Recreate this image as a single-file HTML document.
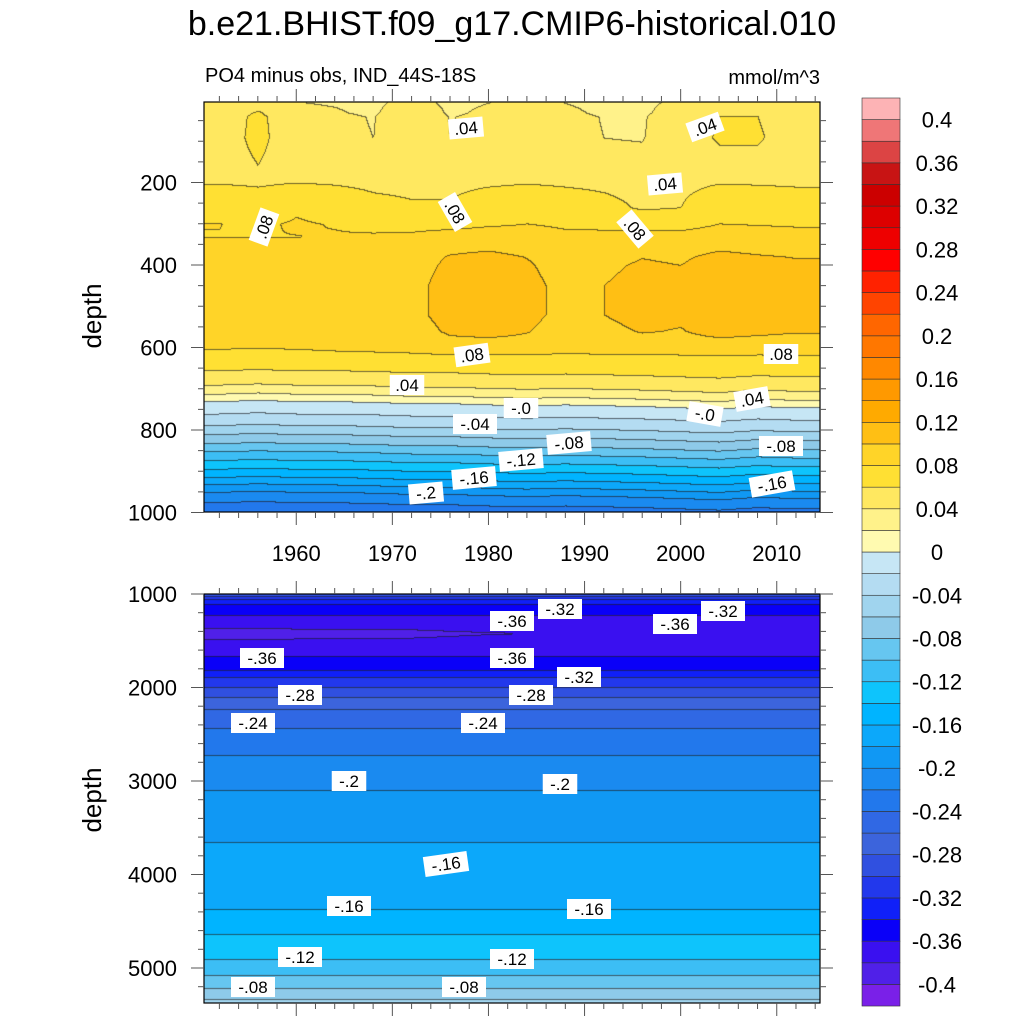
<!DOCTYPE html>
<html><head><meta charset="utf-8"><style>
html,body{margin:0;padding:0;background:#fff;}
#wrap{position:relative;width:1024px;height:1024px;overflow:hidden;font-family:"Liberation Sans",sans-serif;}
canvas{position:absolute;}
svg{position:absolute;left:0;top:0;}
</style></head><body>
<div id="wrap">
<canvas id="cTop" width="616" height="410" style="left:204px;top:102px"></canvas>
<canvas id="cBot" width="616" height="409" style="left:204px;top:594px"></canvas>
<svg id="ov" width="1024" height="1024">
<text x="512" y="35" font-size="34" text-anchor="middle">b.e21.BHIST.f09_g17.CMIP6-historical.010</text>
<text x="205" y="82" font-size="20">PO4 minus obs, IND_44S-18S</text>
<text x="820" y="84" font-size="20" text-anchor="end">mmol/m^3</text>
<text transform="translate(101,316) rotate(-90)" font-size="26" text-anchor="middle">depth</text>
<text transform="translate(101,800) rotate(-90)" font-size="26" text-anchor="middle">depth</text>
<g id="gAxes"></g>
<g id="gLabels"></g>
<g id="gCbar"></g>
</svg>
</div>
<script>
// ---- data ----
const years = [1952,1956,1960,1964,1968,1972,1976,1980,1984,1988,1992,1996,2000,2004,2008,2012];
const surfAnom  = [0.0,0.014,-0.003,-0.006,-0.011,0.009,-0.011,-0.004,0.002,-0.004,-0.011,-0.012,0.005,0.01,0.01,0.005];
const transAnom = [0.005,0.0,0.008,0.003,-0.005,-0.008,-0.008,0.0,0.005,0.0,-0.005,-0.012,-0.01,0.005,0.003,0.0];
const coreAnom  = [-0.008,-0.008,-0.008,-0.005,-0.003,0.0,0.012,0.015,0.01,0.0,0.005,0.01,0.008,0.015,0.012,0.01];
const lowerShift = [0,-3,0,0,2,5,5,8,10,8,10,12,15,18,12,15];
const topDepths = [5,40,150,200,250,300,350,400,450,520,570,600,630,655,690,712,730,760,788,810,832,852,873,894,914,932,950,975,1000];
const topValues = [0.042,0.05,0.052,0.058,0.068,0.078,0.086,0.092,0.095,0.095,0.09,0.083,0.075,0.06,0.04,0.02,0.0,-0.02,-0.04,-0.06,-0.08,-0.1,-0.12,-0.14,-0.16,-0.18,-0.2,-0.22,-0.235];
const botDepths = [1000,1032,1064,1118,1257,1417,1620,1791,1866,1973,2080,2187,2369,2636,2989,3439,4305,4561,4861,5043,5182,5289,5375];
const botValues = [-0.275,-0.305,-0.325,-0.345,-0.365,-0.378,-0.365,-0.345,-0.325,-0.305,-0.285,-0.265,-0.245,-0.225,-0.205,-0.185,-0.165,-0.145,-0.125,-0.105,-0.085,-0.065,-0.055];
const botAnom = [-0.012,-0.012,-0.01,-0.01,-0.01,-0.008,-0.005,-0.003,-0.002,0,0,0,0,0,0,0];
const cbarLevels = [-0.4,-0.36,-0.32,-0.28,-0.24,-0.2,-0.16,-0.12,-0.08,-0.04,0,0.04,0.08,0.12,0.16,0.2,0.24,0.28,0.32,0.36,0.4];
const cbarLabels = ["-0.4","-0.36","-0.32","-0.28","-0.24","-0.2","-0.16","-0.12","-0.08","-0.04","0","0.04","0.08","0.12","0.16","0.2","0.24","0.28","0.32","0.36","0.4"];
const xTickYears = [1960,1970,1980,1990,2000,2010];
const topYTicks = [200,400,600,800,1000];
const botYTicks = [1000,2000,3000,4000,5000];
// colors low -> high (42 bins)
const colors = ["#7a20e8","#5020e8","#3a10f0","#0a00f8","#1020f8","#2238ec","#3050e0","#3c64dc","#3068e4","#2278ec","#1a8af0","#1098f4","#0ca8fa","#00b4ff","#0ec4fc","#3cbef5","#66c6f0","#8ecae9","#a0d4ee","#b4dcf2","#c6e6f5",
"#fffab0","#fff28a","#ffe860","#ffe033","#ffd428","#ffbf14","#ffaa00","#ff9900","#ff8800","#ff7700","#ff6600","#ff4400","#ff2200","#ff0000","#ee0000","#dd0000","#cc0000","#c81414","#dc4444","#ef7677","#fdb3b5"];
// contour labels [text, x, y, rotation]
const clabTop = [[".04",466,128,-5],[".04",705,127,-20],[".08",264,227,-70],[".08",455,212,60],[".04",665,184,-5],[".08",635,229,50],[".08",472,355,-8],[".08",781,354,0],[".04",407,385,0],[".04",752,399,-10],["-.0",521,408,0],["-.0",705,414,10],["-.04",475,424,0],["-.08",569,443,-5],["-.08",781,446,0],["-.12",521,460,-5],["-.16",474,478,-5],["-.16",772,484,-10],["-.2",426,493,-5]];
const clabBot = [["-.32",560,609,0],["-.32",723,611,0],["-.36",512,621,0],["-.36",675,624,0],["-.36",262,658,0],["-.36",512,658,0],["-.32",579,677,0],["-.28",300,695,0],["-.28",531,695,0],["-.24",253,723,0],["-.24",483,723,0],["-.2",349,781,0],["-.2",560,784,0],["-.16",446,864,-8],["-.16",349,906,0],["-.16",589,909,0],["-.12",300,957,0],["-.12",512,959,0],["-.08",253,987,0],["-.08",464,987,0]];

// ---- scales ----
const X0=204, X1=820, YR0=1950.4, YR1=2014.5;
const xScale = yr => X0 + (yr-YR0)/(YR1-YR0)*(X1-X0);
const xInv = px => YR0 + (px-X0)/(X1-X0)*(YR1-YR0);
const TY0=102, TY1=512;
const yTop = d => 100 + d*0.4125;
const yTopInv = py => (py-100)/0.4125;
const BY0=594, BY1=1003;
const yBot = d => 594 + (d-1000)*0.0935;
const yBotInv = py => 1000 + (py-594)/0.0935;

function interp(xs, ys, x){
  if(x<=xs[0]) return ys[0];
  if(x>=xs[xs.length-1]) return ys[ys.length-1];
  for(let i=1;i<xs.length;i++){ if(x<=xs[i]){const t=(x-xs[i-1])/(xs[i]-xs[i-1]);return ys[i-1]+t*(ys[i]-ys[i-1]);} }
}
function binOf(v){ let b=Math.floor((v+0.4)/0.02+1e-9)+1; if(b<0)b=0; if(b>41)b=41; return b; }
function hex(c){return [parseInt(c.substr(1,2),16),parseInt(c.substr(3,2),16),parseInt(c.substr(5,2),16)];}
const rgb = colors.map(hex);

function topVal(yr,d){
  const sh = interp(years, lowerShift, yr);
  const dd = d>600 ? d - sh*Math.min(1,(d-600)/60) : d;
  let v = interp(topDepths, topValues, dd);
  v += interp(years, surfAnom, yr) * interp([0,30,90,150,200,2000],[0.5,1,1,0.6,0,0],d);
  v += interp(years, transAnom, yr) * interp([0,180,260,330,2000],[0,0,1,0,0],d);
  v += interp(years, coreAnom, yr) * interp([0,300,380,560,620,2000],[0,0,1,1,0,0],d);
  return v;
}
function botVal(yr,d){
  let v = interp(botDepths, botValues, d);
  v += interp(years, botAnom, yr) * interp([1000,1300,1420,1550,6000],[0,0,1,0,0],d);
  return v;
}
function paint(id, fn, yInv){
  const cv=document.getElementById(id), ctx=cv.getContext('2d');
  const W=cv.width,H=cv.height, top=parseFloat(cv.style.top);
  const bins=new Int16Array(W*H);
  for(let j=0;j<H;j++){const d=yInv(top+j+0.5);
    for(let i=0;i<W;i++){bins[j*W+i]=binOf(fn(xInv(X0+i+0.5),d));}}
  const img=ctx.createImageData(W,H);
  for(let j=0;j<H;j++)for(let i=0;i<W;i++){
    const k=j*W+i,b=bins[k];let c=rgb[b];
    let edge=(j>0&&bins[k-W]!==b)||(i>0&&bins[k-1]!==b);
    const p=k*4;
    if(edge){img.data[p]=c[0]*0.35+20;img.data[p+1]=c[1]*0.35+20;img.data[p+2]=c[2]*0.35+20;}
    else{img.data[p]=c[0];img.data[p+1]=c[1];img.data[p+2]=c[2];}
    img.data[p+3]=255;}
  ctx.putImageData(img,0,0);
}
paint('cTop', topVal, yTopInv);
paint('cBot', botVal, yBotInv);

// ---- axes ----
const NS='http://www.w3.org/2000/svg';
const gA=document.getElementById('gAxes');
function ln(x1,y1,x2,y2,w,col){const l=document.createElementNS(NS,'line');l.setAttribute('x1',x1);l.setAttribute('y1',y1);l.setAttribute('x2',x2);l.setAttribute('y2',y2);l.setAttribute('stroke',col||'#000');l.setAttribute('stroke-width',w||1);


gA.appendChild(l);return l;}
function txt(g,s,x,y,size,anchor){const t=document.createElementNS(NS,'text');t.setAttribute('x',x);t.setAttribute('y',y);t.setAttribute('font-size',size);t.setAttribute('text-anchor',anchor||'middle');t.textContent=s;g.appendChild(t);return t;}
function frame(y0,y1,name){const r=document.createElementNS(NS,'rect');r.setAttribute('x',X0);r.setAttribute('y',y0);r.setAttribute('width',X1-X0);r.setAttribute('height',y1-y0);r.setAttribute('fill','none');r.setAttribute('stroke','#000');r.setAttribute('stroke-width',1.2);


gA.appendChild(r);}
frame(TY0,TY1,'upper-plot-frame');frame(BY0,BY1,'lower-plot-frame');
for(let yr=1952;yr<=2014;yr+=2){
  const x=xScale(yr), maj=yr%10===0, L=maj?13:6;
  ln(x,TY0,x,TY0-L,1,'#555');ln(x,TY1,x,TY1+L,1,'#555');
  ln(x,BY0,x,BY0-L,1,'#555');ln(x,BY1,x,BY1+L,1,'#555');
}
xTickYears.forEach(yr=>{const t=txt(gA,String(yr),xScale(yr),561,22);

});
for(let d=50;d<=1000;d+=50){const y=yTop(d);if(y<TY0)continue;const maj=d%200===0,L=maj?13:6;
  ln(X0,y,X0-L,y,1,'#555');ln(X1,y,X1+L,y,1,'#555');}
topYTicks.forEach(d=>{const t=txt(gA,String(d),177,yTop(d)+8,22,'end');

});
for(let d=1000;d<=5300;d+=200){const y=yBot(d);if(y>BY1)continue;const maj=d%1000===0,L=maj?13:6;
  ln(X0,y,X0-L,y,1,'#555');ln(X1,y,X1+L,y,1,'#555');}
botYTicks.forEach(d=>{const t=txt(gA,String(d),177,yBot(d)+8,22,'end');

});

// ---- contour labels ----
const gL=document.getElementById('gLabels');
function clab(a){const [s,x,y,r]=a;const g=document.createElementNS(NS,'g');g.setAttribute('transform',`translate(${x},${y}) rotate(${r})`);


const w=s.length*9.5+6;const rc=document.createElementNS(NS,'rect');rc.setAttribute('x',-w/2);rc.setAttribute('y',-10);rc.setAttribute('width',w);rc.setAttribute('height',20);rc.setAttribute('fill','#fff');g.appendChild(rc);
txt(g,s,0,6,17);gL.appendChild(g);}
clabTop.forEach(clab);clabBot.forEach(clab);

// ---- colorbar ----
const gC=document.getElementById('gCbar');
const CB_X=862,CB_W=38,CB_TOP=98,BOX=21.62;
for(let b=0;b<42;b++){const r=document.createElementNS(NS,'rect');const y=CB_TOP+(41-b)*BOX;
r.setAttribute('x',CB_X);r.setAttribute('y',y);r.setAttribute('width',CB_W);r.setAttribute('height',BOX);r.setAttribute('fill',colors[b]);r.setAttribute('stroke','#333');r.setAttribute('stroke-width',0.6);


gC.appendChild(r);}
cbarLevels.forEach((v,i)=>{const y=CB_TOP+(1+(0.4-v)/0.02)*BOX;const t=txt(gC,cbarLabels[i],937,y+8,22);

});
</script>
</body></html>
